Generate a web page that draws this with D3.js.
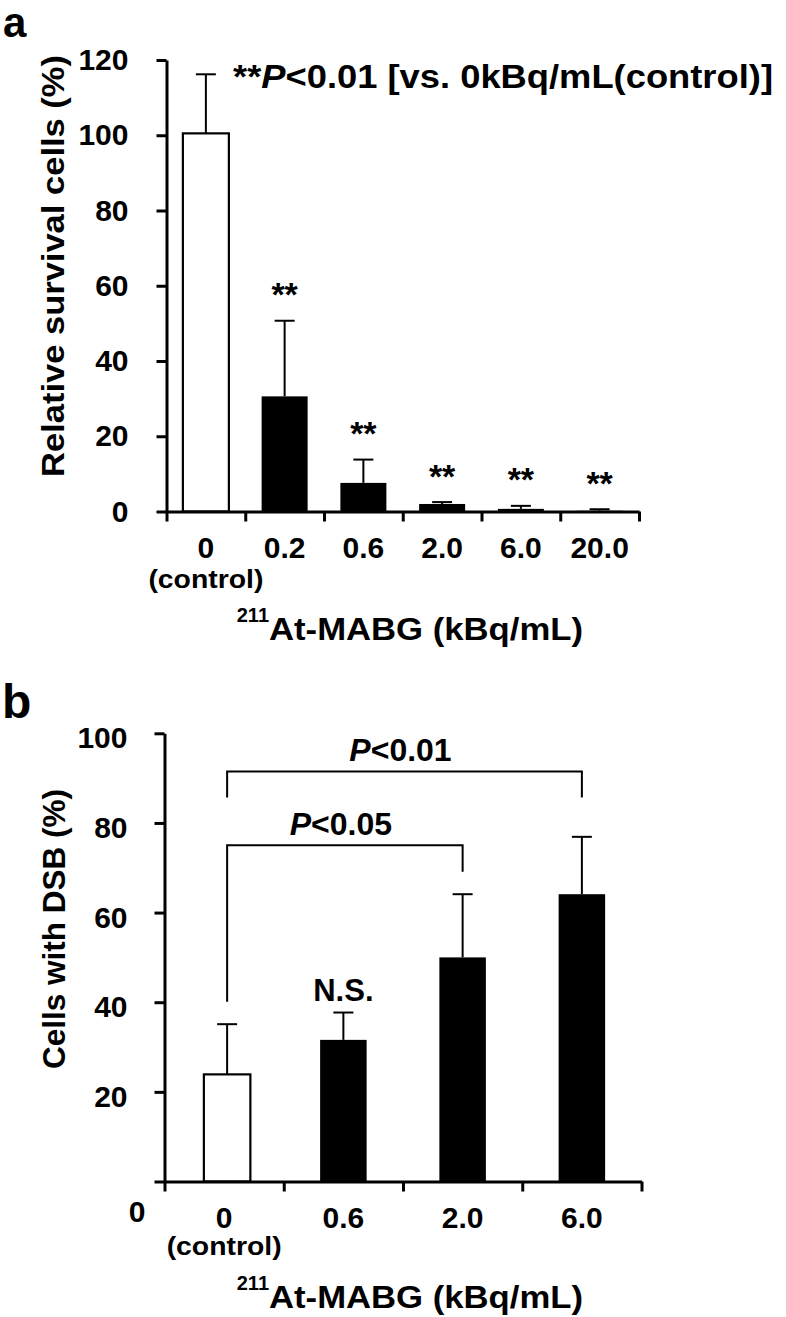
<!DOCTYPE html>
<html>
<head>
<meta charset="utf-8">
<script src="https://cdn.jsdelivr.net/npm/d3@7"></script>
<style>
  html, body { margin: 0; padding: 0; background: #fff; }
  svg { display: block; }
  text { font-family: "Liberation Sans", Arial, Helvetica, sans-serif; font-weight: bold; fill: #000; }
</style>
</head>
<body>
<svg id="chart" width="786" height="1317"></svg>
<script>
// ---------- Panel a data ----------
const catsA = ["0", "0.2", "0.6", "2.0", "6.0", "20.0"];
const meanA = [100.5, 30.6, 7.6, 2.0, 0.7, 0.2];
const sdA   = [15.7, 20.1, 6.2, 0.5, 0.8, 0.4];
const sigA  = ["", "**", "**", "**", "**", "**"];
const yTicksA = [0, 20, 40, 60, 80, 100, 120];

// ---------- Panel b data ----------
const catsB = ["0", "0.6", "2.0", "6.0"];
const meanB = [23.9, 31.6, 50.0, 64.1];
const sdB   = [11.2, 6.1, 14.1, 12.8];
const sigB  = ["", "N.S.", "", ""];
const yTicksB = [0, 20, 40, 60, 80, 100];
const bracketFromB = ["0", "0"];
const bracketToB   = ["2.0", "6.0"];
const bracketLevelB = [75.0, 91.5];
const bracketLegFromB = [40.1, 85.7];
const bracketLegToB   = [69.1, 85.7];
const bracketLabelB = ["<0.05", "<0.01"];

const svg = d3.select("#chart");

function drawPanel(o) {
  const g = svg.append("g");
  const n = o.cats.length;
  const y = d3.scaleLinear().domain(o.yDomain).range([o.y0, o.y1]);
  const x = d3.scaleBand().domain(o.cats).range([o.x0, o.x1])
    .paddingInner(o.pad).paddingOuter(o.pad / 2);
  const xe = d3.scaleLinear().domain([0, n]).range([o.x0, o.x1]);
  const shift = d => (o.barShift && d === o.cats[0] ? o.barShift : 0);

  // bars
  g.selectAll("rect.bar").data(o.cats).join("rect")
    .attr("class", "bar")
    .attr("x", d => x(d) + shift(d))
    .attr("width", x.bandwidth())
    .attr("y", (d, i) => y(o.mean[i]))
    .attr("height", (d, i) => y(0) - y(o.mean[i]))
    .attr("fill", (d, i) => i === 0 ? "#fff" : "#000")
    .attr("stroke", "#000")
    .attr("stroke-width", (d, i) => i === 0 ? 2.2 : 0);

  // error bars (upper only)
  const cx = d => x(d) + x.bandwidth() / 2 + shift(d);
  g.selectAll("line.err").data(o.cats).join("line")
    .attr("class", "err")
    .attr("x1", cx).attr("x2", cx)
    .attr("y1", (d, i) => y(o.mean[i]))
    .attr("y2", (d, i) => y(o.mean[i] + o.sd[i]))
    .attr("stroke", "#000").attr("stroke-width", 2);
  g.selectAll("line.cap").data(o.cats).join("line")
    .attr("class", "cap")
    .attr("x1", d => cx(d) - 10).attr("x2", d => cx(d) + 10)
    .attr("y1", (d, i) => y(o.mean[i] + o.sd[i]))
    .attr("y2", (d, i) => y(o.mean[i] + o.sd[i]))
    .attr("stroke", "#000").attr("stroke-width", 2);

  // significance marks above error bars
  g.selectAll("text.sig").data(o.cats).join("text")
    .attr("class", "sig")
    .attr("x", cx)
    .attr("y", (d, i) => y(o.mean[i] + o.sd[i]) - o.sigGap)
    .attr("text-anchor", "middle")
    .style("font-size", o.sigSize + "px")
    .text((d, i) => o.sig[i]);

  // y axis
  const ya = g.append("g")
    .attr("transform", `translate(${o.x0},0)`)
    .call(d3.axisLeft(y).tickValues(o.yTicks).tickSize(10).tickPadding(o.tickPad).tickSizeOuter(0));
  ya.selectAll("path, line").attr("stroke", "#000").attr("stroke-width", 3);
  ya.selectAll("text").style("font-size", "30px").attr("font-family", null)
    .attr("y", o.labelShift || 0);
  if (o.zeroLabelOffset) {
    ya.selectAll(".tick").filter(d => d === 0).select("text")
      .attr("x", o.zeroLabelOffset[0]).attr("y", o.zeroLabelOffset[1]);
  }

  // x axis (ticks at category boundaries)
  const xa = g.append("g")
    .attr("transform", `translate(0,${o.y0})`)
    .call(d3.axisBottom(xe).tickValues(d3.range(n + 1)).tickSize(10).tickSizeOuter(0).tickFormat(""));
  xa.selectAll("path, line").attr("stroke", "#000").attr("stroke-width", 3);

  // x category labels
  g.selectAll("text.xl").data(o.cats).join("text")
    .attr("class", "xl")
    .attr("x", d => x(d) + x.bandwidth() / 2)
    .attr("y", o.y0 + 46)
    .attr("text-anchor", "middle")
    .style("font-size", "30px")
    .text(d => d);
  g.append("text")
    .attr("x", x(o.cats[0]) + x.bandwidth() / 2)
    .attr("y", o.y0 + o.controlDy)
    .attr("text-anchor", "middle")
    .attr("textLength", 115).attr("lengthAdjust", "spacingAndGlyphs")
    .style("font-size", "26px")
    .text("(control)");

  // x title
  g.append("text")
    .attr("x", o.xTitleX).attr("y", o.y0 + o.xTitleDy - 18)
    .attr("text-anchor", "end")
    .style("font-size", "20px")
    .text("211");
  g.append("text")
    .attr("x", o.xTitleX).attr("y", o.y0 + o.xTitleDy)
    .attr("textLength", o.xTitleLen).attr("lengthAdjust", "spacingAndGlyphs")
    .style("font-size", "32px")
    .text("At-MABG (kBq/mL)");

  // y title
  g.append("text")
    .attr("transform", `translate(${o.yTitleX},${o.yTitleY}) rotate(-90)`)
    .attr("text-anchor", "middle")
    .attr("textLength", o.yTitleLen).attr("lengthAdjust", "spacingAndGlyphs")
    .style("font-size", "32px")
    .text(o.yTitle);

  // panel letter
  g.append("text")
    .attr("x", o.letterX).attr("y", o.letterY)
    .style("font-size", o.letterSize + "px")
    .text(o.letter);

  return { g, x, y, cx };
}

// ---------- Panel a ----------
const A = drawPanel({
  cats: catsA, mean: meanA, sd: sdA, sig: sigA, yTicks: yTicksA,
  yDomain: [0, 120], y0: 511.5, y1: 60,
  x0: 166.5, x1: 639, pad: 0.416,
  tickPad: 28, sigGap: 14.5, sigSize: 34,
  controlDy: 76.5, xTitleX: 269, xTitleDy: 128.5, xTitleLen: 314,
  yTitle: "Relative survival cells (%)", yTitleX: 64, yTitleY: 266, yTitleLen: 422,
  letter: "a", letterX: 3, letterY: 37, letterSize: 42
});

// annotation in panel a
const ann = A.g.append("text")
  .attr("x", 233).attr("y", 88)
  .attr("textLength", 540).attr("lengthAdjust", "spacingAndGlyphs")
  .style("font-size", "33px");
ann.append("tspan").text("**");
ann.append("tspan").style("font-style", "italic").text("P");
ann.append("tspan").text("<0.01 [vs. 0kBq/mL(control)]");

// ---------- Panel b ----------
const B = drawPanel({
  cats: catsB, mean: meanB, sd: sdB, sig: sigB, yTicks: yTicksB,
  yDomain: [0, 100], y0: 1181.5, y1: 733.3,
  x0: 164.5, x1: 641.5, pad: 0.61, barShift: 3,
  tickPad: 27, sigGap: 11.5, sigSize: 31, labelShift: 5,
  zeroLabelOffset: [-19, 30],
  controlDy: 73.5, xTitleX: 269, xTitleDy: 126.5, xTitleLen: 314,
  yTitle: "Cells with DSB (%)", yTitleX: 65, yTitleY: 929, yTitleLen: 280,
  letter: "b", letterX: 2, letterY: 718, letterSize: 48
});

// significance brackets in panel b
bracketLabelB.forEach((lab, i) => {
  const xa = B.cx(bracketFromB[i]);
  const xb = B.cx(bracketToB[i]);
  const yl = B.y(bracketLevelB[i]);
  B.g.append("path")
    .attr("d", `M${xa},${B.y(bracketLegFromB[i])}V${yl}H${xb}V${B.y(bracketLegToB[i])}`)
    .attr("fill", "none").attr("stroke", "#000").attr("stroke-width", 2);
  const t = B.g.append("text")
    .attr("x", (xa + xb) / 2 - 4).attr("y", yl - 10)
    .attr("text-anchor", "middle")
    .style("font-size", "32px");
  t.append("tspan").style("font-style", "italic").text("P");
  t.append("tspan").text(lab);
});
</script>
</body>
</html>
